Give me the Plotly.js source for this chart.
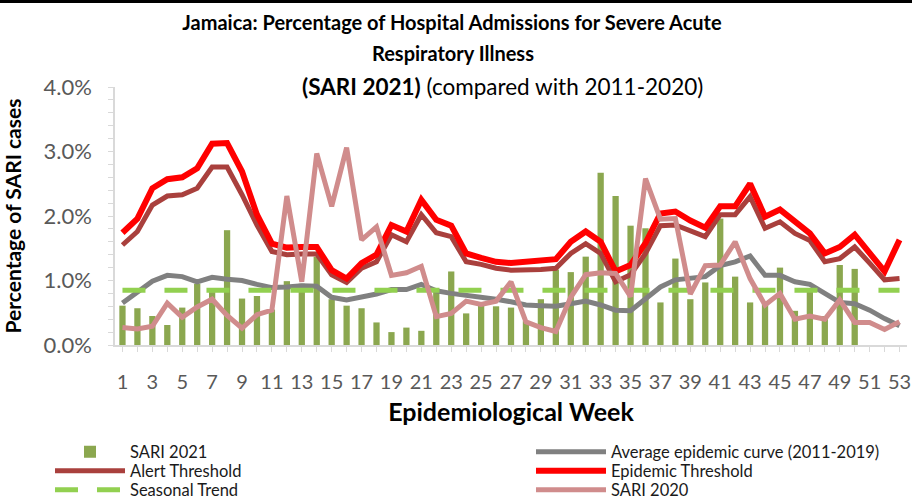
<!DOCTYPE html>
<html>
<head>
<meta charset="utf-8">
<script src="https://cdn.plot.ly/plotly-3.0.1.min.js"></script>
<style>
  html, body { margin: 0; padding: 0; background: #fff; }
  #wrap { position: relative; width: 912px; height: 499px; }
  #chart { width: 912px; height: 499px; }
  #topline { position: absolute; left: 0; top: 0; width: 912px; height: 3px; background: #000; z-index: 10; }
</style>
</head>
<body>
<div id="wrap">
  <div id="chart"></div>
  <div id="topline"></div>
</div>
<script>
// Epidemiological weeks 1..53
const weeks = [1,2,3,4,5,6,7,8,9,10,11,12,13,14,15,16,17,18,19,20,21,22,23,24,25,26,27,28,29,30,31,32,33,34,35,36,37,38,39,40,41,42,43,44,45,46,47,48,49,50,51,52,53];
const weeks2021 = [1,2,3,4,5,6,7,8,9,10,11,12,13,14,15,16,17,18,19,20,21,22,23,24,25,26,27,28,29,30,31,32,33,34,35,36,37,38,39,40,41,42,43,44,45,46,47,48,49,50];

// values in percent
const sari2021 = [0.61,0.57,0.45,0.31,0.58,0.95,0.82,1.78,0.72,0.76,0.55,0.99,0.95,1.37,0.71,0.61,0.57,0.35,0.20,0.27,0.22,0.84,1.14,0.49,0.64,0.60,0.58,0.37,0.71,1.17,1.13,1.37,2.67,2.31,1.85,1.81,0.66,1.34,0.71,0.97,1.96,1.06,0.66,0.67,1.20,0.53,0.86,0.45,1.24,1.18];
const averageCurve = [0.65,0.82,0.99,1.08,1.06,0.98,1.05,1.02,1.00,0.94,0.89,0.90,0.92,0.91,0.74,0.70,0.75,0.79,0.86,0.86,0.94,0.84,0.80,0.77,0.75,0.71,0.67,0.62,0.61,0.60,0.64,0.68,0.62,0.54,0.53,0.72,0.90,1.01,1.03,1.06,1.23,1.29,1.38,1.08,1.08,0.98,0.94,0.81,0.66,0.64,0.54,0.41,0.30];
const alertThreshold = [1.55,1.76,2.17,2.31,2.33,2.43,2.76,2.76,2.33,1.86,1.45,1.40,1.41,1.41,1.09,0.97,1.19,1.29,1.71,1.60,2.02,1.74,1.68,1.29,1.25,1.19,1.16,1.16,1.17,1.19,1.42,1.57,1.42,0.98,1.09,1.42,1.85,1.86,1.76,1.68,2.02,2.02,2.30,1.81,1.91,1.73,1.62,1.29,1.34,1.52,1.27,1.01,1.03];
const epidemicThreshold = [1.74,1.96,2.43,2.57,2.60,2.74,3.12,3.13,2.69,2.02,1.57,1.51,1.52,1.52,1.16,1.03,1.27,1.40,1.86,1.76,2.25,1.94,1.85,1.42,1.35,1.29,1.27,1.29,1.29,1.33,1.60,1.76,1.60,1.14,1.24,1.58,2.04,2.07,1.93,1.82,2.15,2.15,2.50,1.99,2.10,1.91,1.73,1.42,1.52,1.71,1.42,1.14,1.63];
const seasonalTrend = [0.85,0.85,0.85,0.85,0.85,0.85,0.85,0.85,0.85,0.85,0.85,0.85,0.85,0.85,0.85,0.85,0.85,0.85,0.85,0.85,0.85,0.85,0.85,0.85,0.85,0.85,0.85,0.85,0.85,0.85,0.85,0.85,0.85,0.85,0.85,0.85,0.85,0.85,0.85,0.85,0.85,0.85,0.85,0.85,0.85,0.85,0.85,0.85,0.85,0.85,0.85,0.85,0.85];
const sari2020 = [0.27,0.25,0.29,0.65,0.43,0.59,0.71,0.46,0.26,0.47,0.54,2.31,0.98,2.97,2.15,3.06,1.63,1.83,1.08,1.12,1.22,0.44,0.49,0.68,0.63,0.68,0.98,0.36,0.27,0.21,0.74,1.09,1.12,1.11,0.75,2.58,1.95,1.96,0.79,1.23,1.24,1.60,1.03,0.62,0.80,0.40,0.45,0.40,0.70,0.35,0.35,0.24,0.36];

const FONT = 'Lato, "Open Sans", sans-serif';

const traces = [
  { type: 'bar', name: 'SARI 2021', x: weeks2021, y: sari2021, width: 0.42,
    marker: { color: '#8BA74F', line: { width: 0 } }, legend: 'legend' },
  { type: 'scatter', mode: 'lines', name: 'Average epidemic curve (2011-2019)', x: weeks, y: averageCurve,
    line: { color: '#808080', width: 5 }, legend: 'legend4' },
  { type: 'scatter', mode: 'lines', name: 'Alert Threshold', x: weeks, y: alertThreshold,
    line: { color: '#A9403D', width: 5 }, legend: 'legend2' },
  { type: 'scatter', mode: 'lines', name: 'Epidemic Threshold', x: weeks, y: epidemicThreshold,
    line: { color: '#FF0000', width: 6 }, legend: 'legend5' },
  { type: 'scatter', mode: 'lines', name: 'Seasonal Trend', x: weeks, y: seasonalTrend,
    line: { color: '#92D050', width: 5, dash: '23px,19px' }, legend: 'legend3' },
  { type: 'scatter', mode: 'lines', name: 'SARI 2020', x: weeks, y: sari2020,
    line: { color: '#D08C8C', width: 5 }, legend: 'legend6' }
];

// plot area in px: x 115..907, y 87..345
const PL = 115, PW = 792, PT = 87, PH = 258;
const px = v => (v - PL) / PW;
const py = v => (PT + PH - v) / PH;

function leg(xpx, ypx) {
  return { x: px(xpx), y: py(ypx), xanchor: 'left', yanchor: 'middle', orientation: 'v',
    bgcolor: 'rgba(0,0,0,0)', borderwidth: 0, itemwidth: 70,
    font: { family: FONT, size: 16.5, color: '#1a1a1a' } };
}

const layout = {
  width: 912, height: 499,
  margin: { l: PL, r: 912 - PL - PW, t: PT, b: 499 - PT - PH, autoexpand: false },
  paper_bgcolor: '#fff', plot_bgcolor: '#fff',
  showlegend: true,
  title: { text: 'Jamaica: Percentage of Hospital Admissions for Severe Acute',
    xref: 'container', x: 452 / 912, xanchor: 'center',
    yref: 'container', y: 1 - 23 / 499, yanchor: 'middle',
    font: { family: FONT, size: 20, color: '#000', weight: 'bold' } },
  annotations: [
    { text: 'Respiratory Illness', xref: 'paper', yref: 'paper', x: px(453), y: py(53),
      xanchor: 'center', yanchor: 'middle', showarrow: false,
      font: { family: FONT, size: 20, color: '#000', weight: 'bold' } },
    { text: '<b>(SARI 2021)</b> (compared with 2011-2020)', xref: 'paper', yref: 'paper', x: px(502), y: py(86),
      xanchor: 'center', yanchor: 'middle', showarrow: false,
      font: { family: FONT, size: 22.5, color: '#000' } }
  ],
  xaxis: {
    range: [0.5, 53.5], tick0: 1, dtick: 2, showgrid: false, zeroline: false,
    showline: true, linecolor: '#D9D9D9', linewidth: 1.5,
    ticks: 'outside', ticklen: 5, tickcolor: '#D9D9D9', tickwidth: 1,
    minor: { tick0: 1, dtick: 1, ticks: 'outside', ticklen: 5, tickcolor: '#D9D9D9', tickwidth: 1 },
    ticklabelstandoff: 13, ticklabeloverflow: 'allow',
    tickfont: { family: FONT, size: 20, color: '#595959' },
    title: { text: 'Epidemiological Week', standoff: 12,
      font: { family: FONT, size: 25, color: '#000', weight: 'bold' } }
  },
  yaxis: {
    range: [0, 4], dtick: 1, tickformat: '.1f', ticksuffix: '%', showgrid: false, zeroline: false,
    showline: true, linecolor: '#D9D9D9', linewidth: 1.5,
    ticks: 'outside', ticklen: 5, tickcolor: '#D9D9D9', tickwidth: 1,
    minor: { dtick: 0.2, ticks: 'outside', ticklen: 5, tickcolor: '#D9D9D9', tickwidth: 1 },
    ticklabelstandoff: 12,
    tickfont: { family: FONT, size: 22, color: '#595959' },
    title: { text: 'Percentage of SARI cases', standoff: 18,
      font: { family: FONT, size: 21, color: '#000', weight: 'bold' } }
  },
  legend: leg(50, 452),
  legend2: leg(50, 471),
  legend3: leg(50, 490),
  legend4: leg(531, 452),
  legend5: leg(531, 471),
  legend6: leg(531, 490),
  bargap: 0.5
};

Plotly.newPlot('chart', traces, layout, { displayModeBar: false, responsive: false });
</script>
</body>
</html>
